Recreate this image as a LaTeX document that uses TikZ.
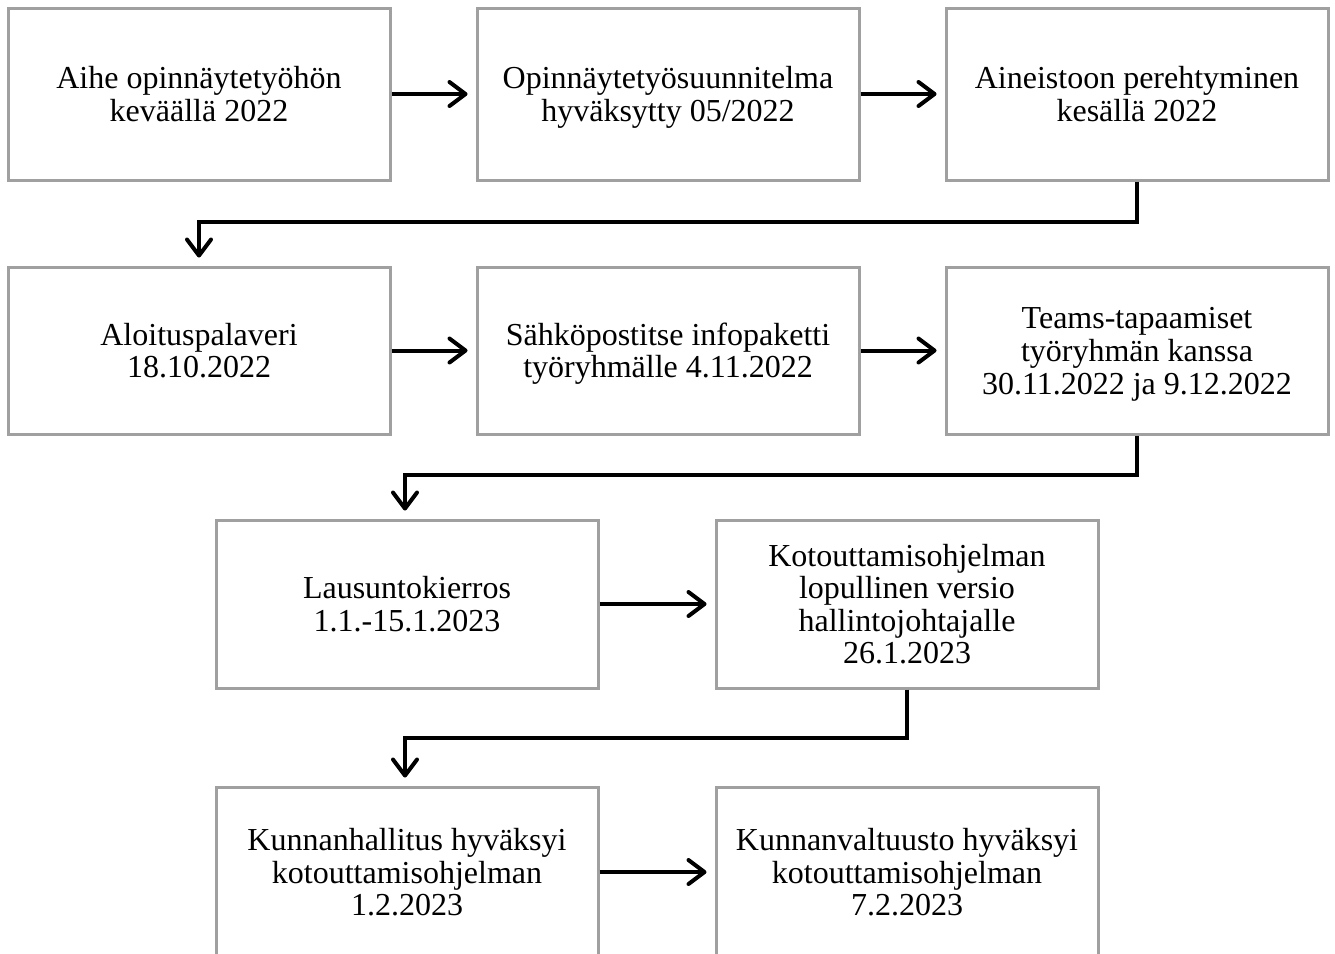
\documentclass[tikz,border=0pt]{standalone}
\usepackage{fontspec}
\setmainfont{Liberation Serif}
\usetikzlibrary{arrows.meta}
\newcommand{\bl}[1]{\rule[-1.5pt]{0pt}{14pt}\smash{#1}}
\begin{document}
\begin{tikzpicture}[x=0.5pt,y=-0.5pt,
  box/.style={draw={rgb,255:red,160;green,160;blue,160}, line width=1.5pt, rectangle,
    minimum width=191pt, align=center, inner sep=0pt,
    font=\fontsize{16}{16.3}\selectfont},
  arr/.style={draw=black, line width=2pt, -{Straight Barb[length=8pt,width=12pt,line width=2pt,round]}, shorten >=4pt}]
\useasboundingbox (0,0) rectangle (1335,954);
\begin{scope}
\clip (0,0) rectangle (1335,954);
\node[box, minimum height=86pt] (b1) at (199,94) {\bl{Aihe opinnäytetyöhön}\\\bl{keväällä 2022}};
\node[box, minimum height=86pt] (b2) at (668,94) {\bl{Opinnäytetyösuunnitelma}\\\bl{hyväksytty 05/2022}};
\node[box, minimum height=86pt] (b3) at (1137,94) {\bl{Aineistoon perehtyminen}\\\bl{kesällä 2022}};
\node[box, minimum height=83.5pt] (b4) at (199,350.5) {\bl{Aloituspalaveri}\\\bl{18.10.2022}};
\node[box, minimum height=83.5pt] (b5) at (668,350.5) {\bl{Sähköpostitse infopaketti}\\\bl{työryhmälle 4.11.2022}};
\node[box, minimum height=83.5pt] (b6) at (1137,350.5) {\bl{Teams-tapaamiset}\\\bl{työryhmän kanssa}\\\bl{30.11.2022 ja 9.12.2022}};
\node[box, minimum height=84pt] (b7) at (407,604) {\bl{Lausuntokierros}\\\bl{1.1.-15.1.2023}};
\node[box, minimum height=84pt] (b8) at (907,604) {\bl{Kotouttamisohjelman}\\\bl{lopullinen versio}\\\bl{hallintojohtajalle}\\\bl{26.1.2023}};
\node[box, minimum height=85pt] (b9) at (407,872) {\bl{Kunnanhallitus hyväksyi}\\\bl{kotouttamisohjelman}\\\bl{1.2.2023}};
\node[box, minimum height=85pt] (b10) at (907,872) {\bl{Kunnanvaltuusto hyväksyi}\\\bl{kotouttamisohjelman}\\\bl{7.2.2023}};
\end{scope}
\draw[arr] (b1.east) -- (b2.west);
\draw[arr] (b2.east) -- (b3.west);
\draw[arr] (b3.south) -- (b3.south |- 0,222) -| (b4.north);
\draw[arr] (b4.east) -- (b5.west);
\draw[arr] (b5.east) -- (b6.west);
\draw[arr] (b6.south) -- (b6.south |- 0,475) -| ([xshift=-1pt]b7.north);
\draw[arr] (b7.east) -- (b8.west);
\draw[arr] (b8.south) -- (b8.south |- 0,738) -| ([xshift=-1pt]b9.north);
\draw[arr] (b9.east) -- (b10.west);
\end{tikzpicture}
\end{document}
